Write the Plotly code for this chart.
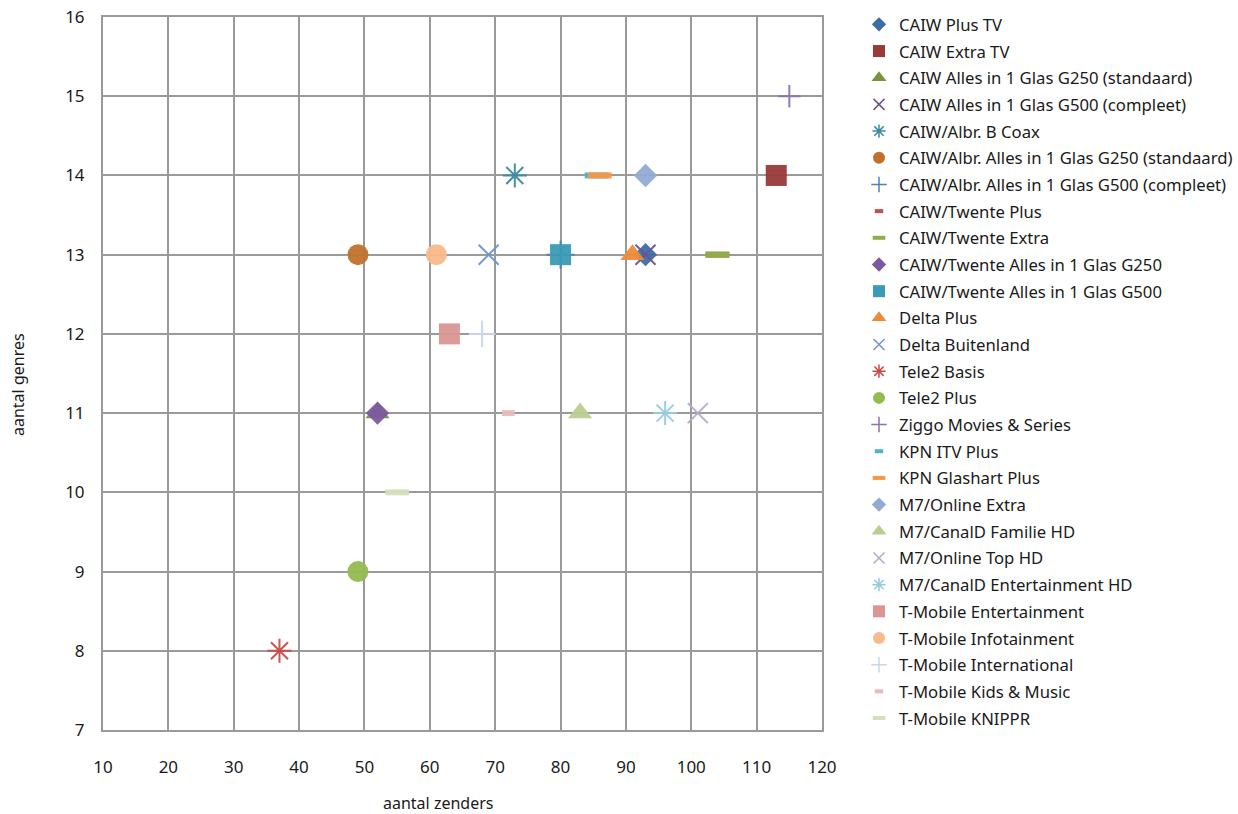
import plotly.graph_objects as go

names = [
    "CAIW Plus TV", "CAIW Extra TV", "CAIW Alles in 1 Glas G250 (standaard)",
    "CAIW Alles in 1 Glas G500 (compleet)", "CAIW/Albr. B Coax",
    "CAIW/Albr. Alles in 1 Glas G250 (standaard)", "CAIW/Albr. Alles in 1 Glas G500 (compleet)",
    "CAIW/Twente Plus", "CAIW/Twente Extra", "CAIW/Twente Alles in 1 Glas G250",
    "CAIW/Twente Alles in 1 Glas G500", "Delta Plus", "Delta Buitenland",
    "Tele2 Basis", "Tele2 Plus", "Ziggo Movies & Series", "KPN ITV Plus",
    "KPN Glashart Plus", "M7/Online Extra", "M7/CanalD Familie HD", "M7/Online Top HD",
    "M7/CanalD Entertainment HD", "T-Mobile Entertainment", "T-Mobile Infotainment",
    "T-Mobile International", "T-Mobile Kids & Music", "T-Mobile KNIPPR",
]
zenders = [93, 113, 52, 93, 73, 49, 80, 104, 104, 52, 80, 91, 69, 37, 49, 115,
           85.5, 86, 93, 83, 101, 96, 63, 61, 68, 72, 55]
genres = [13, 14, 11, 13, 14, 13, 13, 13, 13, 11, 13, 13, 13, 8, 9, 15,
          14, 14, 14, 11, 11, 11, 12, 13, 12, 11, 10]

symbols = ["diamond", "square", "triangle-up", "x-thin-open", "asterisk-open", "circle",
           "cross-thin-open", "line-ew-open", "line-ew-open", "diamond", "square",
           "triangle-up", "x-thin-open", "asterisk-open", "circle", "cross-thin-open",
           "line-ew-open", "line-ew-open", "diamond", "triangle-up", "x-thin-open",
           "asterisk-open", "square", "circle", "cross-thin-open", "line-ew-open", "line-ew-open"]
colors = ["#3F6CA6", "#983A38", "#77933C", "#6A548C", "#3A8AA0", "#C0722C",
          "#4F81BD", "#C0504D", "#8DB04A", "#7A5A9E", "#3B9AB5", "#EE8B3A",
          "#6D97CF", "#C94B48", "#92BC4E", "#8E72B3", "#4BB5CF", "#F79646",
          "#92ABD3", "#B9CF90", "#B7A8CC", "#93CDDD", "#D99694", "#F9B98A",
          "#C9D6EA", "#E8BABA", "#D3E0BC"]
sizes = [18, 21, 21, 20, 20, 21, 20, 17, 17, 18, 21, 21, 20, 20, 21, 16,
         17, 17, 18, 21, 20, 20, 21, 21, 19, 9, 17]
legend_sizes = [11, 12, 13, 11, 11, 12, 11, 6, 9, 11, 12, 13, 11, 11, 12, 11,
                6, 9, 11, 13, 11, 11, 12, 12, 11, 6, 9]

fig = go.Figure()
for n, x, y, s, c, sz, lsz in zip(names, zenders, genres, symbols, colors, sizes, legend_sizes):
    is_open = s.endswith("open")
    lw = 6 if s.startswith("line-ew") else 2
    fig.add_trace(go.Scatter(
        x=[x], y=[y], mode="markers", name=n, legendgroup=n, showlegend=False,
        marker=dict(symbol=s, size=sz, color=c, opacity=0.95,
                    line=dict(color=c, width=lw if is_open else 0)),
    ))
    llw = 4 if s.startswith("line-ew") else 1.5
    fig.add_trace(go.Scatter(
        x=[None], y=[None], mode="markers", name=n, legendgroup=n, showlegend=True,
        marker=dict(symbol=s, size=lsz, color=c,
                    line=dict(color=c, width=llw if is_open else 0)),
    ))

pw, ph = 1238 - 103 - 416, 814 - 17 - 84

fig.update_layout(
    width=1238, height=814,
    margin=dict(l=103, r=416, t=17, b=84, autoexpand=False),
    paper_bgcolor="white", plot_bgcolor="white",
    font=dict(family="Noto Sans", size=16, color="#1a1a1a"),
    showlegend=True,
    legend=dict(x=859 / 1238, y=1 - 7 / 814, xref="container", yref="container",
                xanchor="left", yanchor="top",
                font=dict(size=16.7), itemsizing="trace", maxheight=1000,
                tracegroupgap=1.97, itemwidth=30),
    xaxis=dict(range=[10, 120], dtick=10, tick0=10, showgrid=True, gridcolor="#9a9a9a",
               gridwidth=2, showline=True, linecolor="#9a9a9a", linewidth=2, mirror=True,
               zeroline=False, ticks="", ticklabelstandoff=21, tickfont=dict(size=17)),
    yaxis=dict(range=[7, 16], dtick=1, tick0=7, showgrid=True, gridcolor="#9a9a9a",
               gridwidth=2, showline=True, linecolor="#9a9a9a", linewidth=2, mirror=True,
               zeroline=False, ticks="", ticklabelstandoff=13, tickfont=dict(size=17)),
    annotations=[
        dict(text="aantal zenders", x=(438 - 103) / pw, y=(814 - 84 - 803) / ph,
             xref="paper", yref="paper", xanchor="center", yanchor="middle",
             showarrow=False, font=dict(size=16)),
        dict(text="aantal genres", x=(18 - 103) / pw, y=(814 - 84 - 385) / ph,
             xref="paper", yref="paper", xanchor="center", yanchor="middle",
             showarrow=False, textangle=-90, font=dict(size=16)),
    ],
)

fig.write_html("out.html", config={"displayModeBar": False},
               post_script="document.body.style.margin='0';")
